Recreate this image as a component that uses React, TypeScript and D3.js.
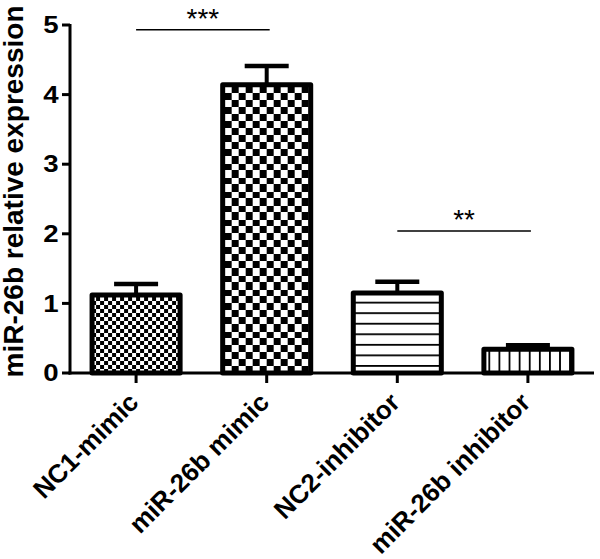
import React from "react";
import * as d3 from "d3";

const categories = ["NC1-mimic", "miR-26b mimic", "NC2-inhibitor", "miR-26b inhibitor"];
const means = [1.12, 4.14, 1.15, 0.34];
const errors = [0.16, 0.27, 0.16, 0.06];
const yTicks = [0, 1, 2, 3, 4, 5];
const patterns = ["checkSmall", "checkLarge", "hLines", "vLines"];
const comparisons = [
  { from: 0, to: 1, label: "***", level: 4.93 },
  { from: 2, to: 3, label: "**", level: 2.04 },
];

const W = 600;
const H = 559;
const FONT = "'Liberation Sans', Arial, Helvetica, sans-serif";

export default function App() {
  const x = d3
    .scaleBand<string>()
    .domain(categories)
    .range([70, 594])
    .paddingInner(0.326)
    .paddingOuter(0.169);
  const y = d3.scaleLinear().domain([0, 5]).range([373, 25]);
  const bw = x.bandwidth();
  const y0 = y(0);

  const patternDef = (kind: string, i: number) => {
    const bx = x(categories[i]) as number;
    const id = `pat${i}`;
    if (kind === "checkSmall") {
      return (
        <pattern key={id} id={id} patternUnits="userSpaceOnUse" x={bx} y={y0} width={8} height={8}>
          <rect width={8} height={8} fill="#fff" />
          <rect x={0} y={0} width={4} height={4} fill="#000" />
          <rect x={4} y={4} width={4} height={4} fill="#000" />
        </pattern>
      );
    }
    if (kind === "checkLarge") {
      return (
        <pattern key={id} id={id} patternUnits="userSpaceOnUse" x={bx + 2} y={y0} width={14} height={14}>
          <rect width={14} height={14} fill="#fff" />
          <rect x={0} y={0} width={7} height={7} fill="#000" />
          <rect x={7} y={7} width={7} height={7} fill="#000" />
        </pattern>
      );
    }
    if (kind === "hLines") {
      return (
        <pattern key={id} id={id} patternUnits="userSpaceOnUse" x={bx} y={y0 - 8} width={20} height={10.55}>
          <rect width={20} height={10.55} fill="#fff" />
          <rect x={0} y={0} width={20} height={1.8} fill="#000" />
        </pattern>
      );
    }
    return (
      <pattern key={id} id={id} patternUnits="userSpaceOnUse" x={bx + 4.5} y={0} width={10.1} height={20}>
        <rect width={10.1} height={20} fill="#fff" />
        <rect x={0} y={0} width={1.8} height={20} fill="#000" />
      </pattern>
    );
  };

  return (
    <svg
      width={W}
      height={H}
      viewBox={`0 0 ${W} ${H}`}
      style={{ position: "absolute", left: 0, top: 0, background: "#fff" }}
    >
      <defs>{patterns.map((p, i) => patternDef(p, i))}</defs>
      <rect width={W} height={H} fill="#fff" />

      {/* bars */}
      {categories.map((c, i) => {
        const bx = x(c) as number;
        const top = y(means[i]);
        const cx = bx + bw / 2;
        const et = y(means[i] + errors[i]);
        return (
          <g key={c}>
            <line x1={cx} x2={cx} y1={top} y2={et} stroke="#000" strokeWidth={4} />
            <line x1={cx - 22} x2={cx + 22} y1={et} y2={et} stroke="#000" strokeWidth={4.5} />
            <rect
              x={bx}
              y={top}
              width={bw}
              height={y0 - top}
              fill={`url(#pat${i})`}
              stroke="#000"
              strokeWidth={5}
              strokeLinejoin="round"
            />
          </g>
        );
      })}

      {/* y axis */}
      <line x1={70} x2={70} y1={y(5) - 1} y2={y0 + 1.5} stroke="#000" strokeWidth={3} />
      {yTicks.map((t) => (
        <g key={t}>
          <line x1={62} x2={70} y1={y(t)} y2={y(t)} stroke="#000" strokeWidth={3} />
          <text
            transform={`translate(58.5,${y(t)}) scale(1.2,1)`}
            dy="0.36em"
            textAnchor="end"
            fontFamily={FONT}
            fontWeight="bold"
            fontSize={23}
            fill="#000"
          >
            {t}
          </text>
        </g>
      ))}

      {/* x axis */}
      <line x1={68.5} x2={594} y1={y0} y2={y0} stroke="#000" strokeWidth={3} />
      {categories.map((c) => {
        const cx = (x(c) as number) + bw / 2;
        return (
          <g key={c}>
            <line x1={cx} x2={cx} y1={y0} y2={y0 + 10} stroke="#000" strokeWidth={3} />
            <text
              transform={`translate(${cx + 4},${y0 + 31}) rotate(-45)`}
              textAnchor="end"
              fontFamily={FONT}
              fontWeight="bold"
              fontSize={26}
              fill="#000"
            >
              {c}
            </text>
          </g>
        );
      })}

      {/* y label */}
      <text
        transform={`translate(23,191.5) rotate(-90)`}
        textAnchor="middle"
        fontFamily={FONT}
        fontWeight="bold"
        fontSize={27}
        textLength={372}
        lengthAdjust="spacingAndGlyphs"
        fill="#000"
      >
        miR-26b relative expression
      </text>

      {/* significance */}
      {comparisons.map((s) => {
        const x1 = (x(categories[s.from]) as number) + bw / 2;
        const x2 = (x(categories[s.to]) as number) + bw / 2 + 3;
        const ly = y(s.level);
        return (
          <g key={s.label}>
            <line x1={x1} x2={x2} y1={ly} y2={ly} stroke="#000" strokeWidth={1.5} />
            <text
              x={(x1 + x2) / 2}
              y={ly - 2}
              textAnchor="middle"
              fontFamily={FONT}
              fontSize={28}
              fill="#000"
            >
              {s.label}
            </text>
          </g>
        );
      })}
    </svg>
  );
}
